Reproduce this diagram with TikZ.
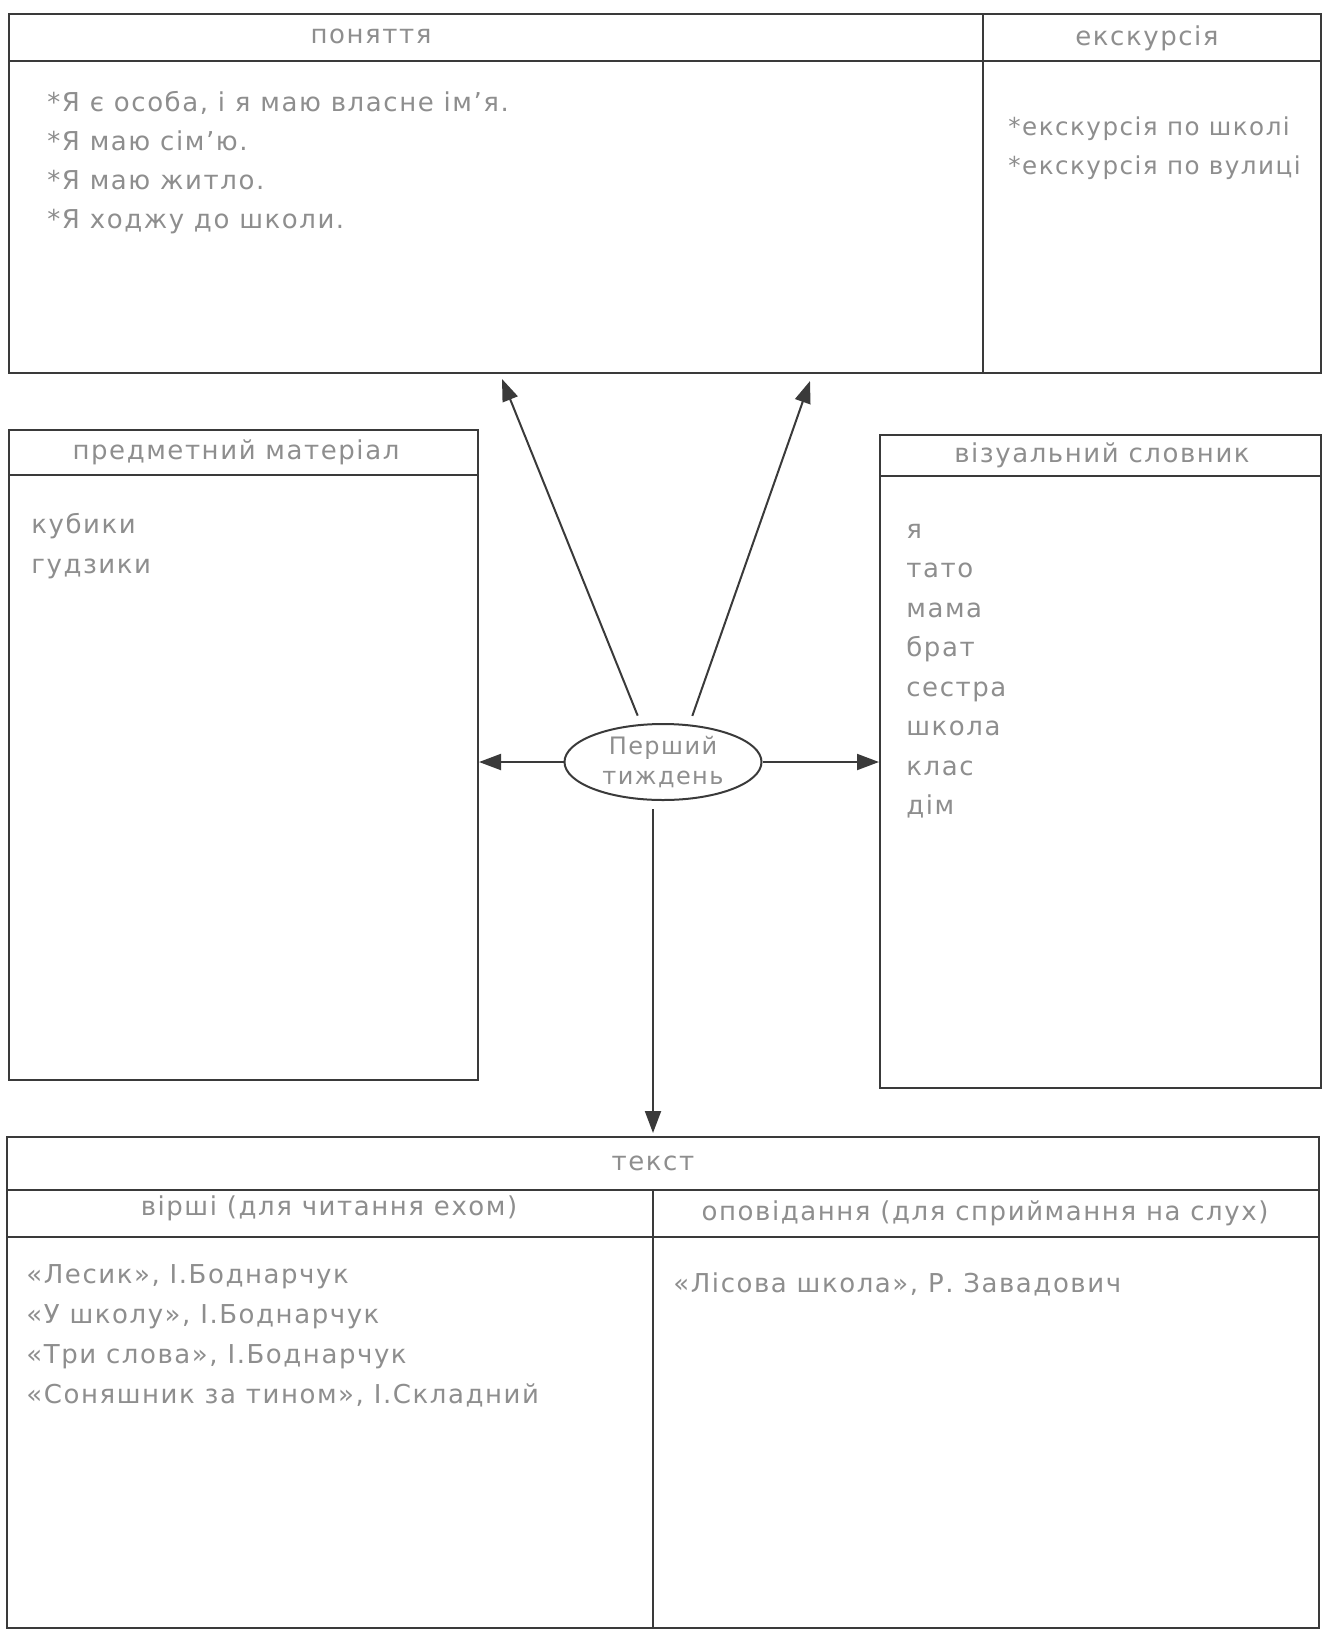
\documentclass[tikz,border=0pt]{standalone}
\usepackage{fontspec}
\setmainfont{DejaVu Sans}[LetterSpace=6]
\usetikzlibrary{arrows.meta,shapes.geometric,calc}
\definecolor{ln}{HTML}{3A3A3A}
\definecolor{tx}{HTML}{8E8E8E}
\begin{document}
\begin{tikzpicture}[x=0.5pt,y=-0.5pt,
  frame/.style={draw=ln, line width=1pt, inner sep=0pt, anchor=north west},
  rule/.style={draw=ln, line width=1pt},
  head/.style={text=tx, inner sep=0pt, font=\fontsize{13}{16}\selectfont},
  body/.style={text=tx, inner sep=0pt, anchor=base west, font=\fontsize{13}{16}\selectfont},
  arr/.style={draw=ln, line width=1pt, -{Triangle[length=11pt,width=8pt]}}]
\useasboundingbox (0,0) rectangle (1324,1629);

% top box
\node[frame, minimum width=656pt, minimum height=179.5pt] (top) at (8,13) {};
\draw[rule] (8,61) -- (1320,61);
\draw[rule] (983,13) -- (983,372);
\node[head] (hpon) at (371,36) {поняття};
\node[head] (hexc) at (1147,38) {екскурсія};
\node[body] (p1) at (47,111) {*Я є особа, і я маю власне ім’я.};
\node[body] (p2) at (47,150) {*Я маю сім’ю.};
\node[body] (p3) at (47,189) {*Я маю житло.};
\node[body] (p4) at (47,228) {*Я ходжу до школи.};
\node[body, font=\fontsize{12.3}{16}\selectfont] (e1) at (1008,135) {*екскурсія по школі};
\node[body, font=\fontsize{12.3}{16}\selectfont] (e2) at (1008,174) {*екскурсія по вулиці};

% left middle box
\node[frame, minimum width=234.5pt, minimum height=325pt] (mat) at (8,429) {};
\draw[rule] (8,475) -- (477,475);
\node[head] (hmat) at (236,452) {предметний матеріал};
\node[body] (m1) at (31,533) {кубики};
\node[body] (m2) at (31,573) {гудзики};

% right middle box
\node[frame, minimum width=220.5pt, minimum height=326.5pt] (vis) at (879,434) {};
\draw[rule] (879,476) -- (1320,476);
\node[head] (hvis) at (1102,455) {візуальний словник};
\node[body] (v1) at (906,538) {я};
\node[body] (v2) at (906,577) {тато};
\node[body] (v3) at (906,617) {мама};
\node[body] (v4) at (906,656) {брат};
\node[body] (v5) at (906,696) {сестра};
\node[body] (v6) at (906,735) {школа};
\node[body] (v7) at (906,775) {клас};
\node[body] (v8) at (906,814) {дім};

% bottom box
\node[frame, minimum width=656pt, minimum height=245.5pt] (txt) at (6,1136) {};
\draw[rule] (6,1190) -- (1318,1190);
\draw[rule] (6,1237) -- (1318,1237);
\draw[rule] (653,1190) -- (653,1627);
\node[head] (htxt) at (653,1163) {текст};
\node[head] (hver) at (329,1208) {вірші (для читання ехом)};
\node[head] (hopo) at (985,1213) {оповідання (для сприймання на слух)};
\node[body] (b1) at (26,1283) {«Лесик», І.Боднарчук};
\node[body] (b2) at (26,1323) {«У школу», І.Боднарчук};
\node[body] (b3) at (26,1363) {«Три слова», І.Боднарчук};
\node[body] (b4) at (26,1403) {«Соняшник за тином», І.Складний};
\node[body] (r1) at (673,1292) {«Лісова школа», Р. Завадович};

% centre
\node[ellipse, draw=ln, line width=1pt, minimum width=98.5pt, minimum height=38pt,
      inner sep=0pt, align=center, text=tx, font=\fontsize{12}{15}\selectfont]
      (ell) at (663,762) {Перший\\тиждень};

\coordinate (tl) at (502,379);
\coordinate (tr) at (810,381);
\coordinate (dn) at (653,1133);
\draw[arr, shorten <=4.5pt] (ell.120) -- (tl);
\draw[arr, shorten <=4.5pt] (ell.55) -- (tr);
\draw[arr] (ell.west) -- (ell.west -| mat.east);
\draw[arr] (ell.east) -- (ell.east -| vis.west);
\draw[arr] ([yshift=-4pt]dn |- ell.south) -- (dn);
\end{tikzpicture}
\end{document}
